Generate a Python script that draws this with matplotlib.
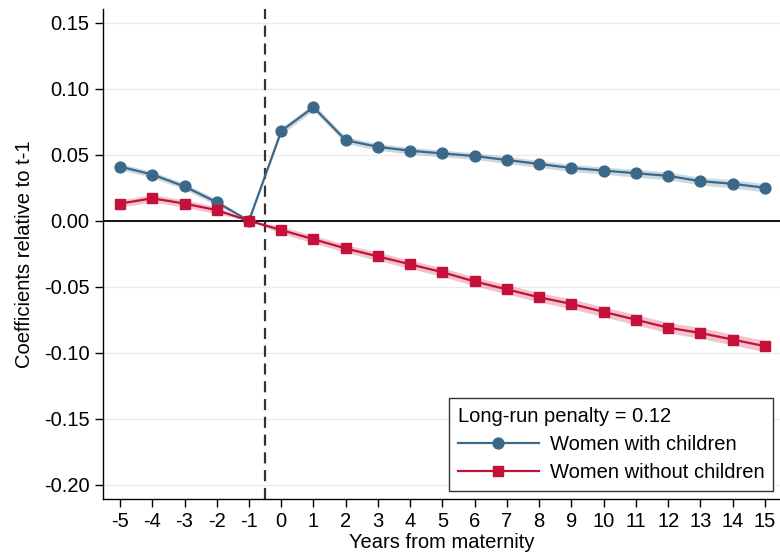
import matplotlib
matplotlib.use("Agg")
import matplotlib.pyplot as plt
import numpy as np

years = [-5, -4, -3, -2, -1, 0, 1, 2, 3, 4, 5, 6, 7, 8, 9, 10, 11, 12, 13, 14, 15]
with_children = [0.041, 0.035, 0.026, 0.014, 0.0, 0.068, 0.086, 0.061, 0.056, 0.053,
                 0.051, 0.049, 0.046, 0.043, 0.040, 0.038, 0.036, 0.034, 0.030, 0.028, 0.025]
without_children = [0.013, 0.017, 0.013, 0.008, 0.0, -0.007, -0.014, -0.021, -0.027, -0.033,
                    -0.039, -0.046, -0.052, -0.058, -0.063, -0.069, -0.075, -0.081, -0.085, -0.090, -0.095]
with_se = [0.0012, 0.0012, 0.0012, 0.0012, 0.0, 0.0013, 0.0013, 0.0013, 0.0013, 0.0013,
           0.0013, 0.0013, 0.0014, 0.0014, 0.0014, 0.0014, 0.0015, 0.0015, 0.0015, 0.0016, 0.0016]
without_se = [0.0014, 0.0014, 0.0014, 0.0014, 0.0, 0.0014, 0.0015, 0.0015, 0.0016, 0.0016,
              0.0017, 0.0017, 0.0018, 0.0018, 0.0019, 0.0019, 0.0020, 0.0020, 0.0021, 0.0021, 0.0022]
yticks = [0.15, 0.10, 0.05, 0.00, -0.05, -0.10, -0.15, -0.20]
legend_title = "Long-run penalty = 0.12"

plt.rcParams['font.family'] = ['Liberation Sans', 'DejaVu Sans']

blue = "#3b6889"
red = "#c5103a"
fs = 14.5

fig = plt.figure(figsize=(7.8, 5.53), dpi=100)
ax = fig.add_axes([0.1324, 0.0976, 0.8676, 0.8861])

x = np.array(years)
wc = np.array(with_children); ws = np.array(with_se)
wo = np.array(without_children); wos = np.array(without_se)

for yv in yticks:
    ax.axhline(yv, color="#ebebeb", lw=1.0, zorder=0)
ax.axhline(0, color="black", lw=1.3, zorder=1)
ax.axvline(-0.5, color="#333333", lw=1.6, ls=(0, (5, 3)), zorder=1)

ax.fill_between(x, wc - 1.96 * ws, wc + 1.96 * ws, color=blue, alpha=0.25, lw=0, zorder=2)
ax.fill_between(x, wo - 1.96 * wos, wo + 1.96 * wos, color=red, alpha=0.25, lw=0, zorder=2)

ax.plot(x, wc, color=blue, lw=1.6, marker="o", ms=7.8, mec=blue, mfc=blue, zorder=3,
        label="Women with children")
ax.plot(x, wo, color=red, lw=1.6, marker="s", ms=7.4, mec=red, mfc=red, zorder=3,
        label="Women without children")

ax.set_xlim(-5.52, 15.47)
ax.set_ylim(-0.2108, 0.1604)
ax.set_xticks(years)
ax.set_xticklabels([str(v) for v in years])
ax.set_yticks(yticks)
ax.set_yticklabels([f"{v:.2f}" for v in yticks])
ax.tick_params(axis="both", labelsize=fs, length=5.8, width=1, direction="out", colors="black")
ax.tick_params(axis="x", pad=3.2)
ax.tick_params(axis="y", pad=4.0)
for s in ["top", "right"]:
    ax.spines[s].set_visible(False)
for s in ["left", "bottom"]:
    ax.spines[s].set_linewidth(1.0)

ax.set_xlabel("Years from maternity", fontsize=fs, labelpad=2)
ax.set_ylabel("Coefficients relative to t-1", fontsize=fs, labelpad=7)

leg = ax.legend(loc="lower right", title=legend_title, fontsize=fs, title_fontsize=fs,
                frameon=True, fancybox=False, edgecolor="#333333", framealpha=1,
                handlelength=4.0, handletextpad=0.55, labelspacing=0.45,
                borderpad=0.45, borderaxespad=0.3, alignment="left",
                bbox_to_anchor=(0.999, 0.004))
leg.get_frame().set_linewidth(1.0)

fig.savefig("out.png", dpi=100)
